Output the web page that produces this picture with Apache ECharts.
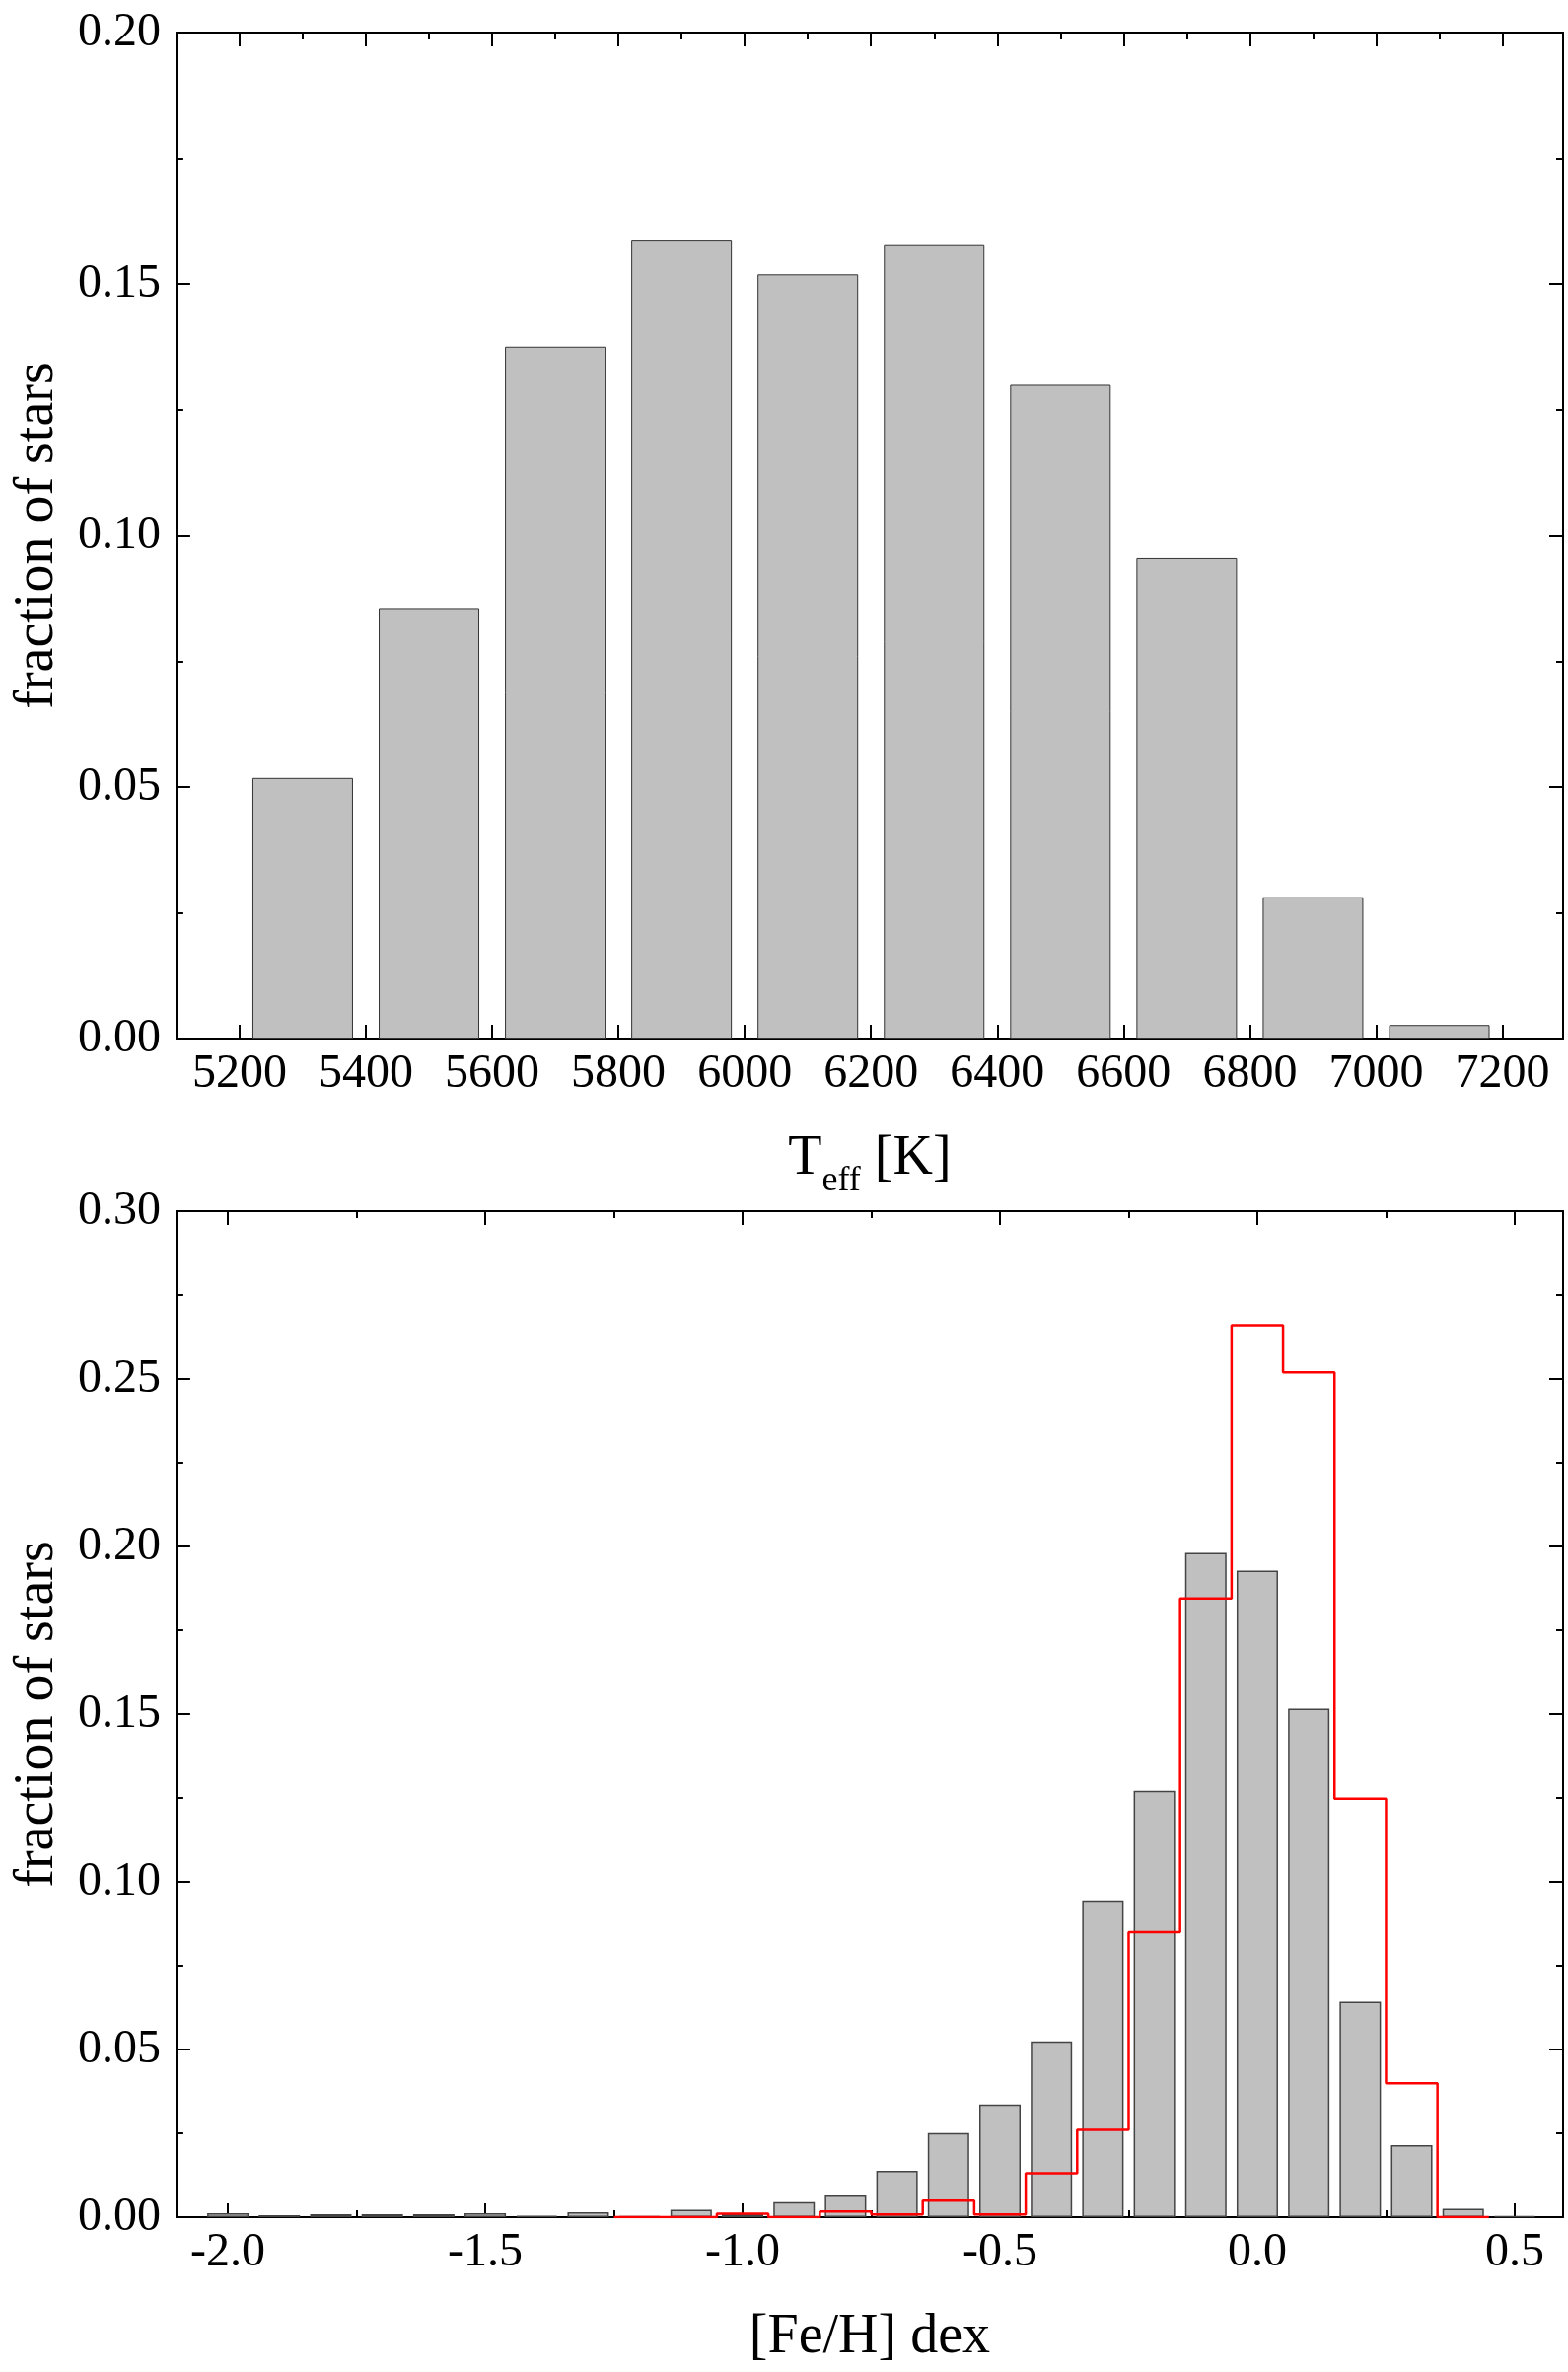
<!DOCTYPE html>
<html>
<head>
<meta charset="utf-8">
<title>Teff and [Fe/H] distributions</title>
<script src="https://cdn.jsdelivr.net/npm/echarts@6/dist/echarts.min.js"></script>
<style>
  html, body { margin: 0; padding: 0; background: #fff; }
  #chart { width: 1590px; height: 2405px; }
</style>
</head>
<body>
<div id="chart"></div>
<script>
// --- data ---
// top panel: Teff histogram (bin centres, 200 K bins)
const tempCenters = [5300, 5500, 5700, 5900, 6100, 6300, 6500, 6700, 6900, 7100]
const tempFrac = [0.0518, 0.0856, 0.1375, 0.1588, 0.1519, 0.1579, 0.1301, 0.0955, 0.0281, 0.0027]
const tempTicks = [5200, 5400, 5600, 5800, 6000, 6200, 6400, 6600, 6800, 7000, 7200]
const tempMinorTicks = [5300, 5500, 5700, 5900, 6100, 6300, 6500, 6700, 6900, 7100]

// bottom panel: [Fe/H] histogram (bin centres, 0.1 dex bins)
const fehCenters = [-2.0, -1.9, -1.8, -1.7, -1.6, -1.5, -1.4, -1.3, -1.2, -1.1, -1.0, -0.9, -0.8,
                    -0.7, -0.6, -0.5, -0.4, -0.3, -0.2, -0.1, 0.0, 0.1, 0.2, 0.3, 0.4, 0.5]
const fehFrac = [0.0012, 0.0006, 0.0009, 0.0009, 0.0009, 0.0012, 0.0004, 0.0015, 0.0003, 0.0022, 0.0009, 0.0045, 0.0065,
                 0.0138, 0.0251, 0.0336, 0.0524, 0.0945, 0.1271, 0.1981, 0.1928, 0.1516, 0.0643, 0.0215, 0.0025, 0.0003]
// red comparison histogram
const fehRedCenters = [-1.2, -1.1, -1.0, -0.9, -0.8, -0.7, -0.6, -0.5, -0.4, -0.3, -0.2, -0.1, 0.0, 0.1, 0.2, 0.3, 0.4]
const fehRedFrac = [0, 0, 0.001, 0, 0.0017, 0.0008, 0.0049, 0.0008, 0.0131, 0.026, 0.085, 0.1845, 0.266, 0.252, 0.1248, 0.0399, 0]
const fehTicks = [-2.0, -1.5, -1.0, -0.5, 0.0, 0.5]
const fehMinorTicks = [-1.75, -1.25, -0.75, -0.25, 0.25]

const FONT = 'Liberation Serif, Times New Roman, serif'
const BLACK = '#000'

// step outline: one point at each bin's left edge, plus the last right edge
const fehBinHalf = 0.05
const redSteps = fehRedCenters.map((c, i) => [c - fehBinHalf, fehRedFrac[i]])
redSteps.push([fehRedCenters[fehRedCenters.length - 1] + fehBinHalf, fehRedFrac[fehRedFrac.length - 1]])

const chart = echarts.init(document.getElementById('chart'), null, { renderer: 'canvas' })

// one side of the frame, with either major (labelled or not) or minor ticks
function xAx(grid, pos, min, max, ticks, opts) {
    return Object.assign({
        type: 'value', gridIndex: grid, position: pos, min: min, max: max,
        axisLine: { show: true, onZero: false, lineStyle: { color: BLACK, width: 2 } },
        axisTick: { show: true, inside: true, length: 14, customValues: ticks, lineStyle: { color: BLACK, width: 2 } },
        axisLabel: { show: false },
        splitLine: { show: false }
    }, opts || {})
}

function yAx(grid, pos, max, withLabels, name) {
    return {
        type: 'value', gridIndex: grid, position: pos, min: 0, max: max, interval: 0.05,
        axisLine: { show: true, onZero: false, lineStyle: { color: BLACK, width: 2 } },
        axisTick: { show: true, inside: true, length: 14, lineStyle: { color: BLACK, width: 2 } },
        minorTick: { show: true, splitNumber: 2, length: 7, lineStyle: { color: BLACK, width: 2 } },
        axisLabel: {
            show: withLabels, margin: 16, color: BLACK, fontFamily: FONT, fontSize: 48,
            formatter: v => v.toFixed(2)
        },
        splitLine: { show: false },
        name: name || '',
        nameLocation: 'middle',
        nameGap: 100,
        nameTextStyle: { color: BLACK, fontFamily: FONT, fontSize: 56, lineHeight: 60 }
    }
}

const majorLabel = (ticks, fmt) => ({
    show: true, customValues: ticks, margin: 12, color: BLACK, fontFamily: FONT, fontSize: 48,
    formatter: fmt
})

const minorOpts = (ticks) => ({
    axisLine: { show: false, onZero: false },
    axisTick: { show: true, inside: true, length: 7, customValues: ticks, lineStyle: { color: BLACK, width: 2 } }
})

chart.setOption({
    animation: false,
    backgroundColor: '#fff',
    grid: [
        { left: 178, top: 33, width: 1407, height: 1020 },
        { left: 178, top: 1228, width: 1407, height: 1020 }
    ],
    xAxis: [
        // top panel
        xAx(0, 'bottom', 5100, 7296, tempTicks, {
            axisLabel: majorLabel(tempTicks, v => String(v)),
            name: '{t|T}{s|eff}{t| [K]}',
            nameLocation: 'middle',
            nameGap: 92,
            nameTextStyle: {
                color: BLACK,
                rich: {
                    t: { fontFamily: FONT, fontSize: 56, lineHeight: 60, color: BLACK },
                    s: { fontFamily: FONT, fontSize: 36, lineHeight: 14, height: 14, verticalAlign: 'bottom', color: BLACK }
                }
            }
        }),
        xAx(0, 'bottom', 5100, 7296, tempMinorTicks, minorOpts(tempMinorTicks)),
        xAx(0, 'top', 5100, 7296, tempTicks),
        xAx(0, 'top', 5100, 7296, tempMinorTicks, minorOpts(tempMinorTicks)),
        // bottom panel
        xAx(1, 'bottom', -2.1, 0.594, fehTicks, {
            axisLabel: majorLabel(fehTicks, v => v.toFixed(1)),
            name: '[Fe/H] dex',
            nameLocation: 'middle',
            nameGap: 92,
            nameTextStyle: { color: BLACK, fontFamily: FONT, fontSize: 56, lineHeight: 60 }
        }),
        xAx(1, 'bottom', -2.1, 0.594, fehMinorTicks, minorOpts(fehMinorTicks)),
        xAx(1, 'top', -2.1, 0.594, fehTicks),
        xAx(1, 'top', -2.1, 0.594, fehMinorTicks, minorOpts(fehMinorTicks))
    ],
    yAxis: [
        yAx(0, 'left', 0.2, true, 'fraction of stars'),
        yAx(0, 'right', 0.2, false),
        yAx(1, 'left', 0.3, true, 'fraction of stars'),
        yAx(1, 'right', 0.3, false)
    ],
    series: [
        {
            type: 'bar', xAxisIndex: 0, yAxisIndex: 0,
            barWidth: 102,
            data: tempCenters.map((c, i) => [c, tempFrac[i]]),
            itemStyle: { color: '#c0c0c0', borderColor: '#333', borderWidth: 1 }
        },
        {
            type: 'bar', xAxisIndex: 4, yAxisIndex: 2,
            barWidth: 42,
            data: fehCenters.map((c, i) => [c, fehFrac[i]]),
            itemStyle: { color: '#c0c0c0', borderColor: '#444', borderWidth: 1.5 }
        },
        {
            type: 'line', xAxisIndex: 4, yAxisIndex: 2,
            step: 'end',
            symbol: 'none',
            z: 5,
            data: redSteps,
            lineStyle: { color: '#ff0000', width: 2.5 }
        }
    ]
})
</script>
</body>
</html>
